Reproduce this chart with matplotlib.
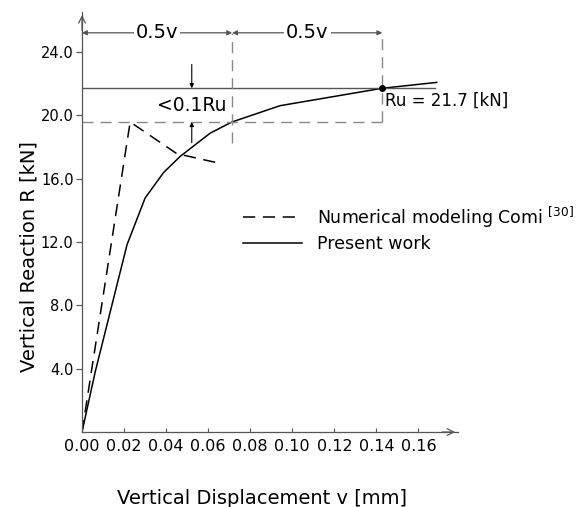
import matplotlib
matplotlib.use("Agg")
import matplotlib.pyplot as plt

# load-displacement curves
num_v = [0.0, 0.0229, 0.0451, 0.0649]
num_R = [0.0, 19.57, 17.57, 16.98]
pres_v = [0.0, 0.0063, 0.0214, 0.030, 0.0388, 0.0467, 0.061, 0.0713, 0.0942, 0.1428, 0.1687]
pres_R = [0.0, 3.81, 11.82, 14.77, 16.38, 17.4, 18.87, 19.57, 20.6, 21.7, 22.07]

Ru = 21.7
v_u = 0.1428
R_peak = max(num_R)

x_ticks = [0.0, 0.02, 0.04, 0.06, 0.08, 0.10, 0.12, 0.14, 0.16]
y_ticks = [4.0, 8.0, 12.0, 16.0, 20.0, 24.0]

plt.rcParams['font.family'] = ['DejaVu Sans']
fig = plt.figure(figsize=(5.82, 5.07), dpi=100)
ax = fig.add_axes([0.1409, 0.1479, 0.646, 0.828])
ax.set_xlim(0, 0.1788)
ax.set_ylim(0, 26.5)

gray = '#555555'
lgray = '#888888'

# axes with arrow ends
for s in ['top', 'right']:
    ax.spines[s].set_visible(False)
for s in ['left', 'bottom']:
    ax.spines[s].set_color(gray)
    ax.spines[s].set_linewidth(0.9)
ax.annotate('', xy=(1.0, 0), xycoords='axes fraction', xytext=(0.95, 0),
            arrowprops=dict(arrowstyle='->', color=gray, lw=0.9, mutation_scale=12))
ax.annotate('', xy=(0, 1.0), xycoords='axes fraction', xytext=(0, 0.95),
            arrowprops=dict(arrowstyle='->', color=gray, lw=0.9, mutation_scale=12))

ax.set_xticks(x_ticks)
ax.set_xticklabels(['%.2f' % t for t in x_ticks])
ax.set_yticks(y_ticks)
ax.set_yticklabels(['%.1f' % t for t in y_ticks])
ax.tick_params(axis='x', direction='in', length=3, color=gray, labelsize=11.5, pad=5)
ax.tick_params(axis='y', direction='out', length=4, color=gray, labelsize=10.5, pad=2)

# curves
ax.plot(num_v, num_R, color='black', lw=1.1, dashes=(8, 5),
        label=r'Numerical modeling Comi $^{\mathrm{[30]}}$')
ax.plot(pres_v, pres_R, color='black', lw=1.1, label='Present work')

# ultimate load lines
ax.plot([0, 0.168], [Ru, Ru], color=gray, lw=1.0)
ax.plot([0, v_u], [R_peak, R_peak], color=lgray, lw=1.0, dashes=(8, 5))
ax.plot([v_u, v_u], [R_peak, 25.2], color=lgray, lw=1.0, dashes=(8, 5))
ax.plot([v_u / 2, v_u / 2], [18.26, 25.2], color=lgray, lw=1.0, dashes=(8, 5))
ax.plot([v_u], [Ru], 'o', color='black', ms=4)
ax.text(v_u + 0.0015, Ru - 0.2, 'Ru = %.1f [kN]' % Ru, fontsize=12, va='top', ha='left')

# dimension line for 0.5v
dim_y = 25.2
for x0, x1 in [(0, v_u / 2), (v_u / 2, v_u)]:
    ax.annotate('', xy=(x1, dim_y), xytext=(x0, dim_y),
                arrowprops=dict(arrowstyle='<|-|>', color=gray, lw=0.9,
                                mutation_scale=7, shrinkA=0, shrinkB=0))
    ax.text((x0 + x1) / 2, dim_y, '0.5v', fontsize=14, ha='center', va='center',
            bbox=dict(facecolor='white', edgecolor='none', pad=1.5))

# 0.1Ru tolerance marks
xm = 0.0522
ax.annotate('', xy=(xm, Ru), xytext=(xm, 23.2),
            arrowprops=dict(arrowstyle='-|>', color='black', lw=0.8,
                            mutation_scale=6, shrinkA=0, shrinkB=0))
ax.annotate('', xy=(xm, R_peak), xytext=(xm, 18.26),
            arrowprops=dict(arrowstyle='-|>', color='black', lw=0.8,
                            mutation_scale=6, shrinkA=0, shrinkB=0))
ax.text(xm, 20.6, '<0.1Ru', fontsize=13.5, ha='center', va='center')

ax.legend(loc='upper left', bbox_to_anchor=(0.428, 0.542), frameon=False,
          fontsize=12.5, handlelength=3.4, handletextpad=0.86, labelspacing=0.3,
          borderpad=0, borderaxespad=0)

ax.set_xlabel('Vertical Displacement v [mm]', fontsize=14)
ax.xaxis.set_label_coords(0.479, -0.136)
ax.set_ylabel('Vertical Reaction R [kN]', fontsize=14)
ax.yaxis.set_label_coords(-0.117, 0.417)

fig.savefig('out.png', dpi=100)
